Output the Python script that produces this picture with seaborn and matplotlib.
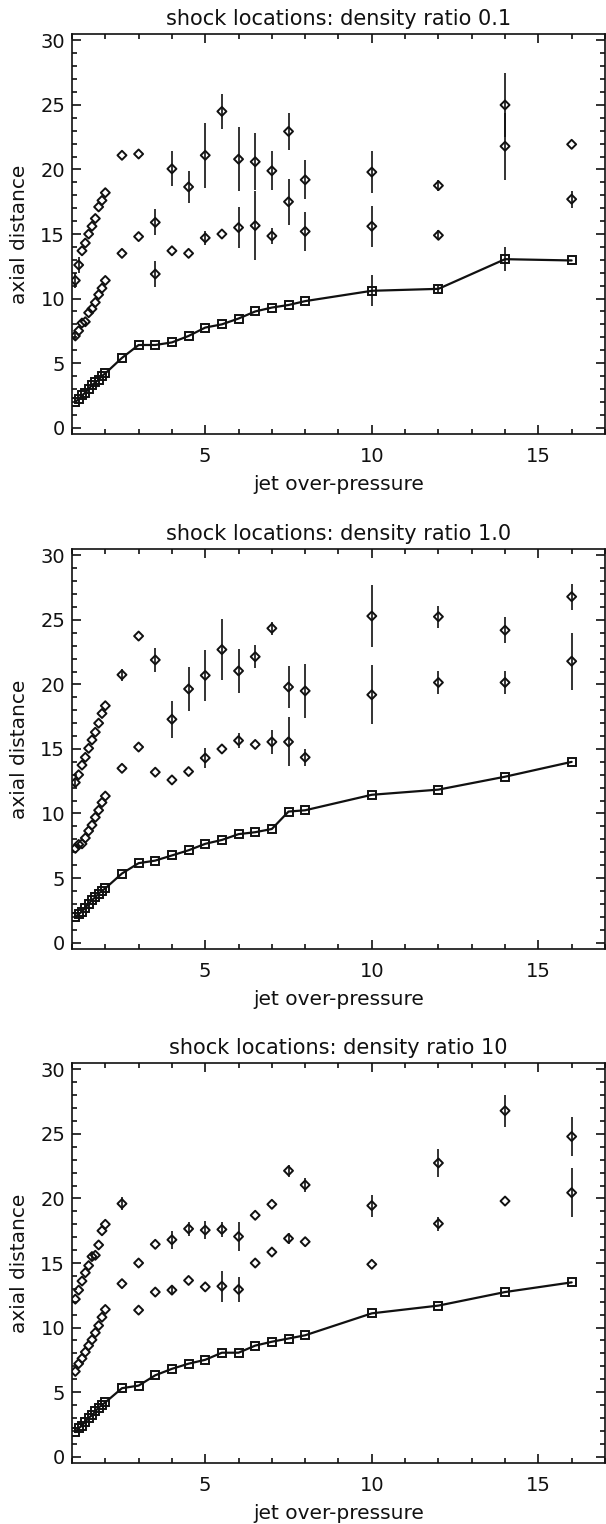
import numpy as np
import pandas as pd
import matplotlib
matplotlib.use("Agg")
import matplotlib.pyplot as plt
import seaborn as sns
from matplotlib.ticker import MultipleLocator

# jet over-pressure values (shared by all panels)
pressure = [1.1, 1.2, 1.3, 1.4, 1.5, 1.6, 1.7, 1.8, 1.9, 2.0,
            2.5, 3.0, 3.5, 4.0, 4.5, 5.0, 5.5, 6.0, 6.5, 7.0, 7.5, 8.0,
            10.0, 12.0, 14.0, 16.0]

titles = ["shock locations: density ratio 0.1",
          "shock locations: density ratio 1.0",
          "shock locations: density ratio 10"]

# ---- density ratio 0.1 ----
first_01 = [2.0, 2.2, 2.5, 2.7, 3.0, 3.3, 3.5, 3.7, 4.0, 4.2,
            5.4, 6.4, 6.4, 6.6, 7.1, 7.75, 8.0, 8.45, 9.0, 9.3, 9.5, 9.8,
            10.6, 10.75, 13.05, 12.95]
first_01_err = [0, 0, 0, 0, 0, 0, 0, 0, 0, 0,
                0, 0, 0, 0, 0, 0, 0, 0, 0, 0, 0, 0,
                1.2, 0.3, 0.95, 0]
second_01 = [7.1, 7.5, 8.1, 8.2, 8.9, 9.2, 9.7, 10.3, 10.8, 11.4,
             13.5, 14.8, 11.9, 13.7, 13.5, 14.7, 15.0, 15.5, 15.65, 14.85, 17.5, 15.2,
             15.6, 14.9, 21.8, 17.7]
second_01_err = [0.3, 0, 0, 0, 0, 0, 0, 0, 0, 0,
                 0, 0, 1.0, 0, 0, 0.55, 0, 1.6, 2.7, 0.65, 1.8, 1.5,
                 1.6, 0.4, 2.6, 0.65]
third_01 = [11.4, 12.6, 13.7, 14.3, 15.0, 15.6, 16.2, 17.1, 17.6, 18.2,
            21.1, 21.2, 15.9, 20.05, 18.65, 21.1, 24.5, 20.8, 20.6, 19.9, 22.95, 19.2,
            19.8, 18.75, 25.0, 21.95]
third_01_err = [0.6, 0.6, 0, 0, 0, 0, 0, 0, 0, 0,
                0, 0, 1.0, 1.35, 1.25, 2.5, 1.35, 2.5, 2.2, 1.5, 1.45, 1.5,
                1.6, 0.45, 2.5, 0]

# ---- density ratio 1.0 ----
first_1 = [2.0, 2.2, 2.4, 2.7, 3.0, 3.3, 3.5, 3.8, 4.0, 4.2,
           5.35, 6.15, 6.35, 6.75, 7.15, 7.65, 7.95, 8.4, 8.55, 8.8, 10.15, 10.25,
           11.45, 11.85, 12.85, 14.0]
first_1_err = [0] * 26
second_1 = [7.3, 7.6, 7.65, 8.1, 8.65, 9.1, 9.7, 10.25, 10.85, 11.35,
            13.5, 15.15, 13.2, 12.6, 13.25, 14.3, 15.0, 15.65, 15.35, 15.55, 15.55, 14.35,
            19.2, 20.15, 20.15, 21.8]
second_1_err = [0, 0, 0, 0, 0, 0, 0, 0, 0, 0,
                0, 0, 0, 0, 0, 0.75, 0, 0.55, 0, 0.95, 1.9, 0.65,
                2.3, 0.9, 0.9, 2.2]
third_1 = [12.4, 13.0, 13.75, 14.35, 15.05, 15.7, 16.3, 17.0, 17.75, 18.35,
           20.75, 23.75, 21.9, 17.3, 19.65, 20.7, 22.7, 21.05, 22.15, 24.35, 19.8, 19.5,
           25.3, 25.25, 24.2, 26.8]
third_1_err = [0.3, 0, 0, 0, 0, 0, 0, 0, 0, 0,
               0.45, 0, 0.9, 1.45, 1.7, 2.0, 2.35, 1.7, 0.9, 0.5, 1.6, 2.1,
               2.4, 0.85, 1.0, 1.0]

# ---- density ratio 10 ----
first_10 = [1.9, 2.2, 2.4, 2.7, 3.0, 3.2, 3.5, 3.8, 4.0, 4.2,
            5.3, 5.5, 6.3, 6.8, 7.2, 7.5, 8.05, 8.05, 8.6, 8.9, 9.15, 9.4,
            11.1, 11.7, 12.75, 13.5]
first_10_err = [0] * 26
second_10 = [6.6, 7.2, 7.6, 8.1, 8.6, 9.05, 9.6, 10.15, 10.8, 11.4,
             13.4, 11.35, 12.75, 12.9, 13.65, 13.15, 13.2, 12.95, 15.0, 15.85, 16.9, 16.65,
             14.9, 18.05, 19.8, 20.45]
second_10_err = [0, 0, 0, 0, 0, 0, 0, 0, 0, 0,
                 0, 0, 0, 0.35, 0, 0, 1.2, 1.0, 0, 0, 0.45, 0,
                 0, 0.55, 0, 1.9]
third_10 = [12.2, 12.9, 13.6, 14.25, 14.8, 15.5, 15.6, 16.4, 17.5, 18.0,
            19.6, 15.0, 16.45, 16.8, 17.65, 17.55, 17.6, 17.05, 18.7, 19.55, 22.15, 21.05,
            19.45, 22.75, 26.8, 24.8]
third_10_err = [0, 0, 0, 0, 0, 0.25, 0, 0, 0, 0,
                0.5, 0, 0, 0.7, 0.55, 0.7, 0.6, 1.1, 0, 0, 0.45, 0.55,
                0.85, 1.05, 1.25, 1.5]

panels = [
    (first_01, first_01_err, second_01, second_01_err, third_01, third_01_err),
    (first_1, first_1_err, second_1, second_1_err, third_1, third_1_err),
    (first_10, first_10_err, second_10, second_10_err, third_10, third_10_err),
]

sns.set_theme(style="ticks")
plt.rcParams['font.family'] = ['DejaVu Sans']
plt.rcParams['axes.linewidth'] = 1.2

fig = plt.figure(figsize=(6.06, 15.24), dpi=100)
bottoms = [0.7152, 0.3773, 0.0400]

for b, title, (f, fe, s2, s2e, s3, s3e) in zip(bottoms, titles, panels):
    ax = fig.add_axes([0.1188, b, 0.8795, 0.2625])
    ax.set_facecolor('white')
    # error bars
    for yv, ev in ((f, fe), (s2, s2e), (s3, s3e)):
        ax.errorbar(pressure, yv, yerr=ev, fmt='none', ecolor='#111111',
                    elinewidth=1.2, capsize=0, zorder=2)
    # primary shock: connected squares
    sns.lineplot(x=pressure, y=f, ax=ax, color='#111111', linewidth=1.6,
                 marker='s', markersize=6.3, markerfacecolor='none',
                 markeredgecolor='#111111', markeredgewidth=1.4,
                 errorbar=None, zorder=3)
    # secondary shocks: open diamonds
    for yv in (s2, s3):
        sns.scatterplot(x=pressure, y=yv, ax=ax, marker='D', s=21,
                        color='#111111', facecolor='none', edgecolor='#111111',
                        linewidth=1.4, zorder=4)
    ax.set_xlim(1, 17)
    ax.set_ylim(-0.5, 30.5)
    ax.xaxis.set_major_locator(MultipleLocator(5))
    ax.xaxis.set_minor_locator(MultipleLocator(1))
    ax.yaxis.set_major_locator(MultipleLocator(5))
    ax.yaxis.set_minor_locator(MultipleLocator(1))
    ax.tick_params(which='both', direction='in', top=True, right=True,
                   width=1.2, color='#111111')
    ax.tick_params(which='major', length=6.5)
    ax.tick_params(which='minor', length=3.3)
    ax.tick_params(axis='x', which='major', pad=9.5, labelsize=14,
                   labelcolor='#111111')
    ax.tick_params(axis='y', which='major', pad=5, labelsize=14,
                   labelcolor='#111111')
    for sp in ax.spines.values():
        sp.set_color('#111111')
        sp.set_linewidth(1.2)
    ax.set_title(title, fontsize=15, pad=6.5, color='#111111')
    ax.set_xlabel("jet over-pressure", fontsize=14.5, labelpad=6, color='#111111')
    ax.set_ylabel("axial distance", fontsize=14.5, labelpad=8, color='#111111')

fig.savefig("out.png", dpi=100, facecolor='white')
